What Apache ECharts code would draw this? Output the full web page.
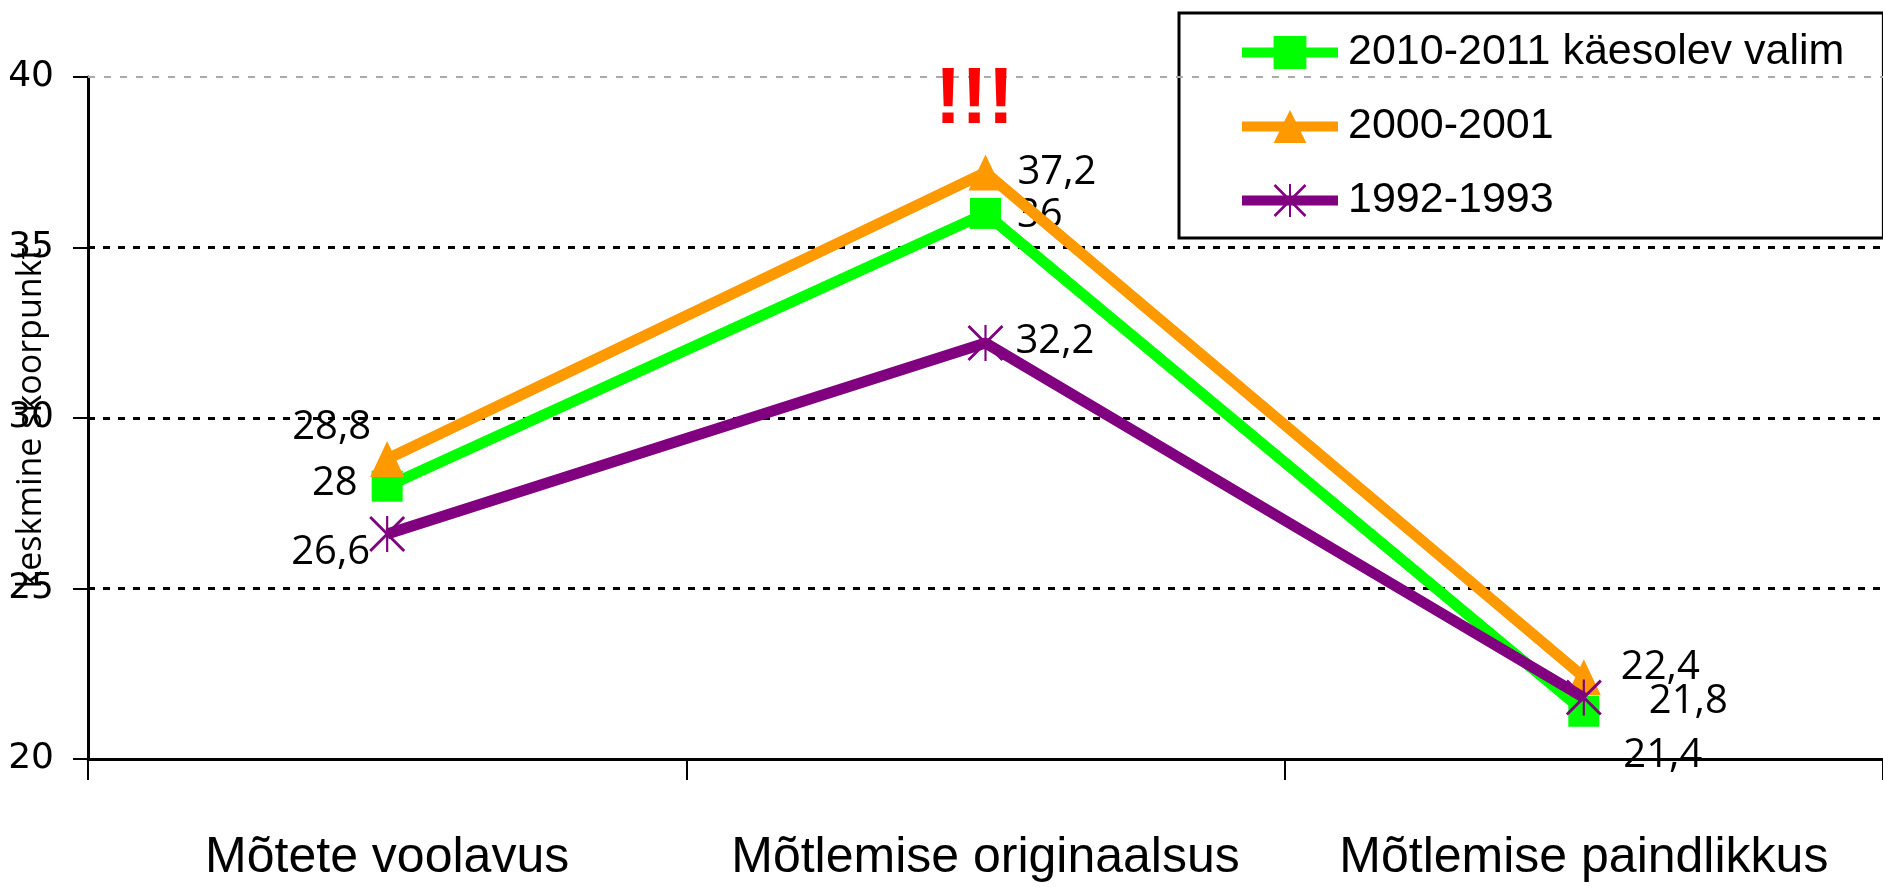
<!DOCTYPE html>
<html>
<head>
<meta charset="utf-8">
<script src="https://cdn.jsdelivr.net/npm/echarts@6/dist/echarts.min.js"></script>
<style>
html,body{margin:0;padding:0;background:#fff;}
#main{width:1883px;height:887px;}
</style>
</head>
<body>
<div id="main"></div>
<script>
const categories = ['Mõtete voolavus', 'Mõtlemise originaalsus', 'Mõtlemise paindlikkus'];
const seriesNames = ['2010-2011 käesolev valim', '2000-2001', '1992-1993'];
const values2010 = [28, 36, 21.4];
const values2000 = [28.8, 37.2, 22.4];
const values1992 = [26.6, 32.2, 21.8];
const yTicks = [20, 25, 30, 35, 40];
const yAxisName = 'keskmine skoorpunkt';
const annotationText = '!!!';

const labelFont = '"Open Sans", "Noto Sans", sans-serif';
const arialFont = '"Liberation Sans", Arial, sans-serif';

// label placement per point (styles only)
const labelPlacement = {
  g: [{position:'left', distance:5, offset:[-9,-3]}, {position:'right', distance:5, offset:[11,2]}, {position:'right', distance:5, offset:[19,44]}],
  o: [{position:'left', distance:5, offset:[6,-31]}, {position:'right', distance:5, offset:[10,0]}, {position:'right', distance:5, offset:[15,-10]}],
  p: [{position:'left', distance:5, offset:[6,19]}, {position:'right', distance:5, offset:[7,-1]}, {position:'right', distance:5, offset:[42,4]}]
};

function fmt(v){ return String(v).replace('.', ','); }
function buildData(vals, pl){
  return vals.map((v,i)=>({value:v, label:Object.assign({}, pl[i])}));
}

const starPath = 'path://M47,0 L53,0 L53,100 L47,100 Z M0,5.6 L5.6,0 L100,94.4 L94.4,100 Z M94.4,0 L100,5.6 L5.6,100 L0,94.4 Z';

const baseLabel = {
  show:true, color:'#000', fontFamily:labelFont, fontSize:40,
  formatter: p => fmt(p.value)
};

const chart = echarts.init(document.getElementById('main'), null, {renderer:'canvas'});
chart.setOption({
  animation:false,
  backgroundColor:'#fff',
  grid:{left:88, right:0, top:77, bottom:128, containLabel:false, outerBoundsMode:'none'},
  legend:{
    left:1179, top:13,
    orient:'vertical',
    backgroundColor:'#fff',
    borderColor:'#000', borderWidth:3,
    padding:[18, 39, 16, 58],
    itemWidth:96, itemHeight:41, itemGap:31,
    lineStyle:{width:10},
    textStyle:{fontFamily:arialFont, fontSize:43, color:'#000', padding:[0,0,0,5]},
    data: seriesNames
  },
  xAxis:{
    type:'category', data:categories, boundaryGap:true,
    axisLine:{show:true, lineStyle:{color:'#000', width:3}},
    axisTick:{show:true, length:21, lineStyle:{color:'#000', width:2}},
    axisLabel:{fontFamily:arialFont, fontSize:50, color:'#000', margin:74, interval:0},
    splitLine:{show:false}
  },
  yAxis:{
    type:'value', min:20, max:40, interval:5,
    name:yAxisName, nameLocation:'middle', nameGap:40, nameRotate:90, nameMoveOverlap:false,
    nameTextStyle:{fontFamily:labelFont, fontSize:34, color:'#000'},
    axisLine:{show:true, lineStyle:{color:'#000', width:3}},
    axisTick:{show:true, length:15, lineStyle:{color:'#000', width:2}},
    axisLabel:{fontFamily:'"DejaVu Sans", sans-serif', fontSize:36, color:'#000', margin:34,
      formatter: v => yTicks.includes(v) ? String(v) : ''},
    splitLine:{show:true, lineStyle:{color:['#000','#000','#000','#000','transparent'], width:3, type:[7,8]}}
  },
  series:[
    {
      name:seriesNames[0], type:'line', data:buildData(values2010, labelPlacement.g),
      symbol:'rect', symbolSize:31,
      lineStyle:{color:'#00ff00', width:11},
      itemStyle:{color:'#00ff00'},
      label:baseLabel, z:2
    },
    {
      name:seriesNames[1], type:'line', data:buildData(values2000, labelPlacement.o),
      symbol:'triangle', symbolSize:[34,36],
      lineStyle:{color:'#ff9900', width:11},
      itemStyle:{color:'#ff9900'},
      label:baseLabel, z:3,
      markLine:{
        silent:true, symbol:'none', label:{show:false},
        lineStyle:{color:'#aaa', width:2, type:[7,9]},
        data:[{yAxis:40}]
      },
      markPoint:{
        silent:true,
        data:[{coord:[1, 39.28], symbol:'circle', symbolSize:1, itemStyle:{color:'transparent'},
          label:{show:true, position:'inside', offset:[-11,0], formatter:annotationText,
            color:'#ff0000', fontFamily:arialFont, fontWeight:'bold', fontSize:79}}]
      }
    },
    {
      name:seriesNames[2], type:'line', data:buildData(values1992, labelPlacement.p),
      symbol:starPath, symbolSize:36,
      lineStyle:{color:'#800080', width:11},
      itemStyle:{color:'#800080'},
      label:baseLabel, z:4
    }
  ]
});
</script>
</body>
</html>
